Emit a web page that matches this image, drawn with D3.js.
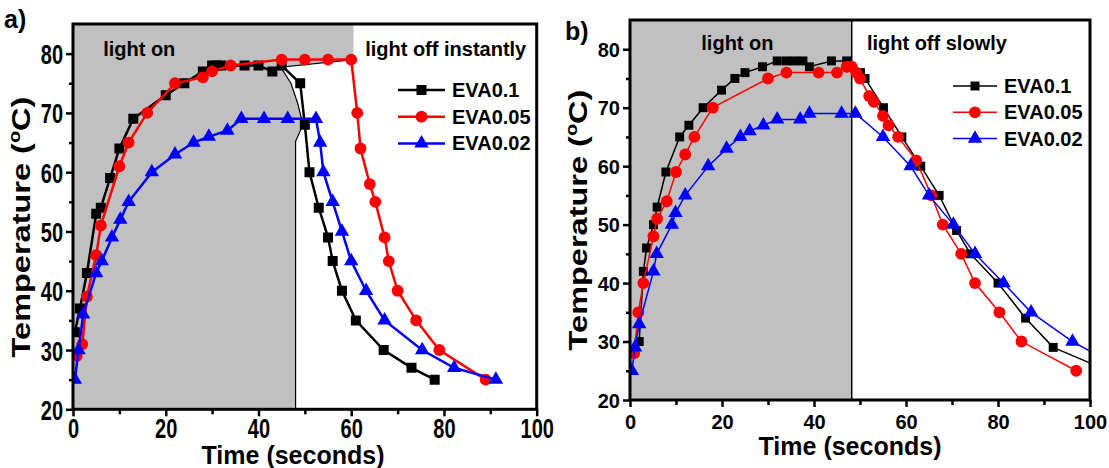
<!DOCTYPE html>
<html><head><meta charset="utf-8">
<script src="https://cdn.jsdelivr.net/npm/d3@7"></script>
<style>
html,body{margin:0;padding:0;background:#fff;}
svg{display:block;font-family:"Liberation Sans",Arial,sans-serif;font-weight:bold;}
</style></head>
<body>
<svg id="chart" width="1109" height="468"></svg>
<script>
// ---------- data ----------
const seriesNames = ["EVA0.1", "EVA0.05", "EVA0.02"];
const seriesColors = ["#000000", "#ff0000", "#0000ff"];
const xTicks = [0, 20, 40, 60, 80, 100];
const yTicks = [20, 30, 40, 50, 60, 70, 80];

// panel a) light off instantly
const aX_eva01 = [0.4, 1.5, 3, 5, 6, 8, 10, 13, 20, 24, 28, 30, 31, 32, 37, 40, 43, 45, 49, 50, 51, 53, 55, 56, 58, 61, 67, 73, 78];
const aY_eva01 = [33, 37, 43, 53, 54, 59, 64, 69, 73, 75, 77, 78, 78, 78, 78, 78, 77, 78, 75, 68, 60, 54, 49, 45, 40, 35, 30, 27, 25];
const aX_eva005 = [0.8, 2, 3, 5, 6, 10, 12, 16, 22, 28, 30, 34, 45, 50, 55, 60, 61.3, 62, 64, 65.2, 67.2, 68.1, 70, 74, 79, 89];
const aY_eva005 = [29, 31, 39, 46, 51, 61, 65, 70, 75, 76, 77, 78, 79, 79, 79, 79, 70, 64, 58, 55, 49, 45, 40, 35, 30, 25];
const aX_eva002 = [0.4, 1.2, 2.2, 5, 6.2, 8.4, 10.2, 12, 17, 22, 26, 29.3, 33.3, 36.3, 41.2, 46.3, 52.4, 53.3, 54, 56, 58, 60, 63.2, 67.2, 75.3, 82.2, 91.2];
const aY_eva002 = [25, 30, 36, 43, 45, 49, 52, 55, 60, 63, 65, 66, 67, 69, 69, 69, 69, 65, 60, 55, 50, 45, 40, 35, 30, 27, 25];

// panel b) light off slowly
const bX_eva01 = [2, 2.9, 3.6, 5.1, 5.9, 7.8, 10.8, 12.8, 15.9, 19.9, 22.8, 25, 28.8, 32, 34, 35.8, 37.6, 39, 43.8, 47.1, 50.1, 51.1, 55.1, 59.1, 63.2, 67.2, 71, 74, 80, 86, 92, 104];
const bY_eva01 = [30, 42, 46, 50, 53, 59, 65, 67, 70, 73, 75, 76, 77, 78, 78, 78, 78, 77, 78, 78, 76, 75, 70, 65, 60, 55, 49, 45, 40, 34, 29, 25];
const bX_eva005 = [0.9, 1.8, 2.9, 5.1, 5.9, 8, 10, 12, 14, 18, 30, 34, 41, 45, 47.1, 48.2, 49.2, 50, 52, 53, 55, 56.2, 58.3, 62.2, 65.5, 68, 72, 75, 80.3, 85.1, 97];
const bY_eva005 = [28, 35, 40, 48, 51, 54, 59, 62, 65, 70, 75, 76, 76, 76, 77, 77, 76, 75, 72, 71, 68.6, 67, 65, 61, 55, 50, 45, 40, 35, 30, 25];
const bX_eva002 = [0.4, 1.1, 2, 5.1, 5.8, 9.1, 9.9, 12, 17, 21, 24, 26, 29, 32, 37, 39, 46, 49, 55, 61, 65, 70.3, 75, 81.2, 87.2, 96.2, 105];
const bY_eva002 = [25, 29, 33, 42, 45, 50, 52, 55, 60, 63, 65, 66, 67, 68, 68, 69, 69, 69, 65, 60, 55, 50, 45, 40, 35, 30, 26.2];

// shaded "light on" region outlines (data space)
const aShadeX = [0, 60.5, 60.5, 44.8, 47, 48.5, 49.6, 48, 48, 0];
const aShadeY = [85, 85, 79, 77.7, 75, 71.5, 68, 65.2, 20, 20];
const bShadeX = [0, 48.2, 48.2, 0];
const bShadeY = [85, 85, 20, 20];

const svg = d3.select("#chart");

function zip(xs, ys) { return xs.map((x, i) => [x, ys[i]]); }

function drawPanel(cfg) {
  const x = d3.scaleLinear().domain([0, 100]).range([cfg.left, cfg.right]);
  const y = d3.scaleLinear().domain([20, 85]).range([cfg.bottom, cfg.top]);
  const g = svg.append("g");
  const clipId = "clip" + cfg.id;
  svg.append("clipPath").attr("id", clipId).append("rect")
    .attr("x", cfg.left).attr("y", cfg.top)
    .attr("width", cfg.right - cfg.left).attr("height", cfg.bottom - cfg.top);

  // shaded area
  const shade = zip(cfg.shadeX, cfg.shadeY);
  g.append("path").attr("clip-path", `url(#${clipId})`)
    .attr("d", d3.line().x(d => x(d[0])).y(d => y(d[1]))(shade) + "Z")
    .attr("fill", "#c0c0c0").attr("stroke", "none");
  const edge = shade.slice(cfg.edgeFrom, cfg.edgeTo);
  g.append("path").attr("clip-path", `url(#${clipId})`)
    .attr("d", d3.line().x(d => x(d[0])).y(d => y(d[1]))(edge))
    .attr("fill", "none").attr("stroke", "#000").attr("stroke-width", cfg.edgeWidth);

  // series
  const plot = g.append("g").attr("clip-path", `url(#${clipId})`);
  cfg.series.forEach((s, i) => {
    const pts = zip(s.x, s.y);
    plot.append("path")
      .attr("d", d3.line().x(d => x(d[0])).y(d => y(d[1]))(pts))
      .attr("fill", "none").attr("stroke", seriesColors[i]).attr("stroke-width", cfg.lineWidth);
    const sym = [d3.symbolSquare, d3.symbolCircle, d3.symbolTriangle][i];
    plot.selectAll(null).data(pts).enter().append("path")
      .attr("transform", d => `translate(${x(d[0])},${y(d[1])})`)
      .attr("d", d3.symbol().type(sym).size(cfg.markerSizes[i]))
      .attr("fill", seriesColors[i]);
  });

  // axes
  const xMinor = d3.range(10, 100, 20);
  const yMinor = d3.range(25, 80, 10);
  const axB = g.append("g").attr("transform", `translate(0,${cfg.bottom})`)
    .call(d3.axisBottom(x).tickValues(xTicks).tickSize(7).tickFormat(d3.format("d")));
  g.append("g").attr("transform", `translate(0,${cfg.bottom})`)
    .call(d3.axisBottom(x).tickValues(xMinor).tickSize(5).tickFormat(""));
  const axL = g.append("g").attr("transform", `translate(${cfg.left},0)`)
    .call(d3.axisLeft(y).tickValues(yTicks).tickSize(7).tickFormat(d3.format("d")));
  g.append("g").attr("transform", `translate(${cfg.left},0)`)
    .call(d3.axisLeft(y).tickValues(yMinor).tickSize(4).tickFormat(""));
  g.selectAll(".domain").remove();
  g.selectAll(".tick line").attr("stroke", "#000").attr("stroke-width", 2.5);
  g.selectAll(".tick text").attr("font-size", 20).attr("font-weight", "bold")
    .attr("font-family", "'Liberation Sans', Arial, sans-serif").attr("fill", "#000")
    .attr("y", 0).attr("dy", 0).attr("x", 0);
  axB.selectAll(".tick text").attr("text-anchor", "middle")
    .attr("transform", `translate(0,${cfg.xLabelBase}) scale(1,${cfg.labelStretch})`);
  axL.selectAll(".tick text").attr("text-anchor", "end")
    .attr("transform", `translate(-10,${7.2 * cfg.labelStretch}) scale(1,${cfg.labelStretch})`);

  // frame
  g.append("rect").attr("x", cfg.left).attr("y", cfg.top)
    .attr("width", cfg.right - cfg.left).attr("height", cfg.bottom - cfg.top)
    .attr("fill", "none").attr("stroke", "#000").attr("stroke-width", 3);

  // region captions
  g.append("text").attr("x", x(cfg.onX)).attr("y", cfg.captionY).attr("font-size", 20).text("light on");
  g.append("text").attr("x", x(cfg.offX)).attr("y", cfg.captionY).attr("font-size", 20).text(cfg.offText);

  // legend
  cfg.series.forEach((s, i) => {
    const ly = cfg.legendY + i * cfg.legendStep;
    g.append("line").attr("x1", cfg.legendX).attr("x2", cfg.legendX + cfg.legendLen)
      .attr("y1", ly).attr("y2", ly).attr("stroke", seriesColors[i]).attr("stroke-width", cfg.lineWidth);
    const sym = [d3.symbolSquare, d3.symbolCircle, d3.symbolTriangle][i];
    g.append("path").attr("transform", `translate(${cfg.legendX + cfg.legendLen / 2},${ly})`)
      .attr("d", d3.symbol().type(sym).size(cfg.markerSizes[i])).attr("fill", seriesColors[i]);
    g.append("text").attr("x", cfg.legendX + cfg.legendLen + 7).attr("y", ly + 7)
      .attr("font-size", 20).text(seriesNames[i]);
  });

  // axis titles
  g.append("text").attr("x", cfg.xTitleX).attr("y", cfg.xTitleY)
    .attr("text-anchor", "middle").attr("font-size", 25).text("Time (seconds)");
  const yt = g.append("text")
    .attr("transform", `translate(${cfg.yTitleX},${cfg.yTitleCY}) rotate(-90) scale(${cfg.yTitleStretch},1)`)
    .attr("text-anchor", "middle").attr("font-size", 26);
  yt.append("tspan").text("Temperature (");
  yt.append("tspan").attr("font-size", 16).attr("dy", -10).text("o");
  yt.append("tspan").attr("dy", 10).text("C)");

  // panel label
  svg.append("text").attr("x", cfg.labelX).attr("y", cfg.labelY).attr("font-size", 25).text(cfg.label);
}

drawPanel({
  id: "a", left: 73, right: 536.7, top: 24, bottom: 409.3,
  series: [{x: aX_eva01, y: aY_eva01}, {x: aX_eva005, y: aY_eva005}, {x: aX_eva002, y: aY_eva002}],
  shadeX: aShadeX, shadeY: aShadeY, edgeFrom: 2, edgeTo: 9, edgeWidth: 1.2,
  lineWidth: 2.5, markerSizes: [100, 110, 90],
  labelStretch: 1.4, xLabelBase: 29,
  onX: 6.5, offX: 63, offText: "light off instantly", captionY: 56,
  legendX: 398, legendLen: 47, legendY: 90, legendStep: 26.7,
  xTitleX: 293, xTitleY: 464, yTitleX: 30, yTitleCY: 227, yTitleStretch: 1.25,
  label: "a)", labelX: 4, labelY: 28
});
drawPanel({
  id: "b", left: 630, right: 1090, top: 20, bottom: 400,
  series: [{x: bX_eva01, y: bY_eva01}, {x: bX_eva005, y: bY_eva005}, {x: bX_eva002, y: bY_eva002}],
  shadeX: bShadeX, shadeY: bShadeY, edgeFrom: 1, edgeTo: 3, edgeWidth: 1.5,
  lineWidth: 1.5, markerSizes: [80, 110, 90],
  labelStretch: 1.0, xLabelBase: 29,
  onX: 15.5, offX: 51.5, offText: "light off slowly", captionY: 50,
  legendX: 953, legendLen: 44, legendY: 86, legendStep: 26.3,
  xTitleX: 850, xTitleY: 455, yTitleX: 587, yTitleCY: 220, yTitleStretch: 1.25,
  label: "b)", labelX: 565, labelY: 40
});
</script>
</body></html>
